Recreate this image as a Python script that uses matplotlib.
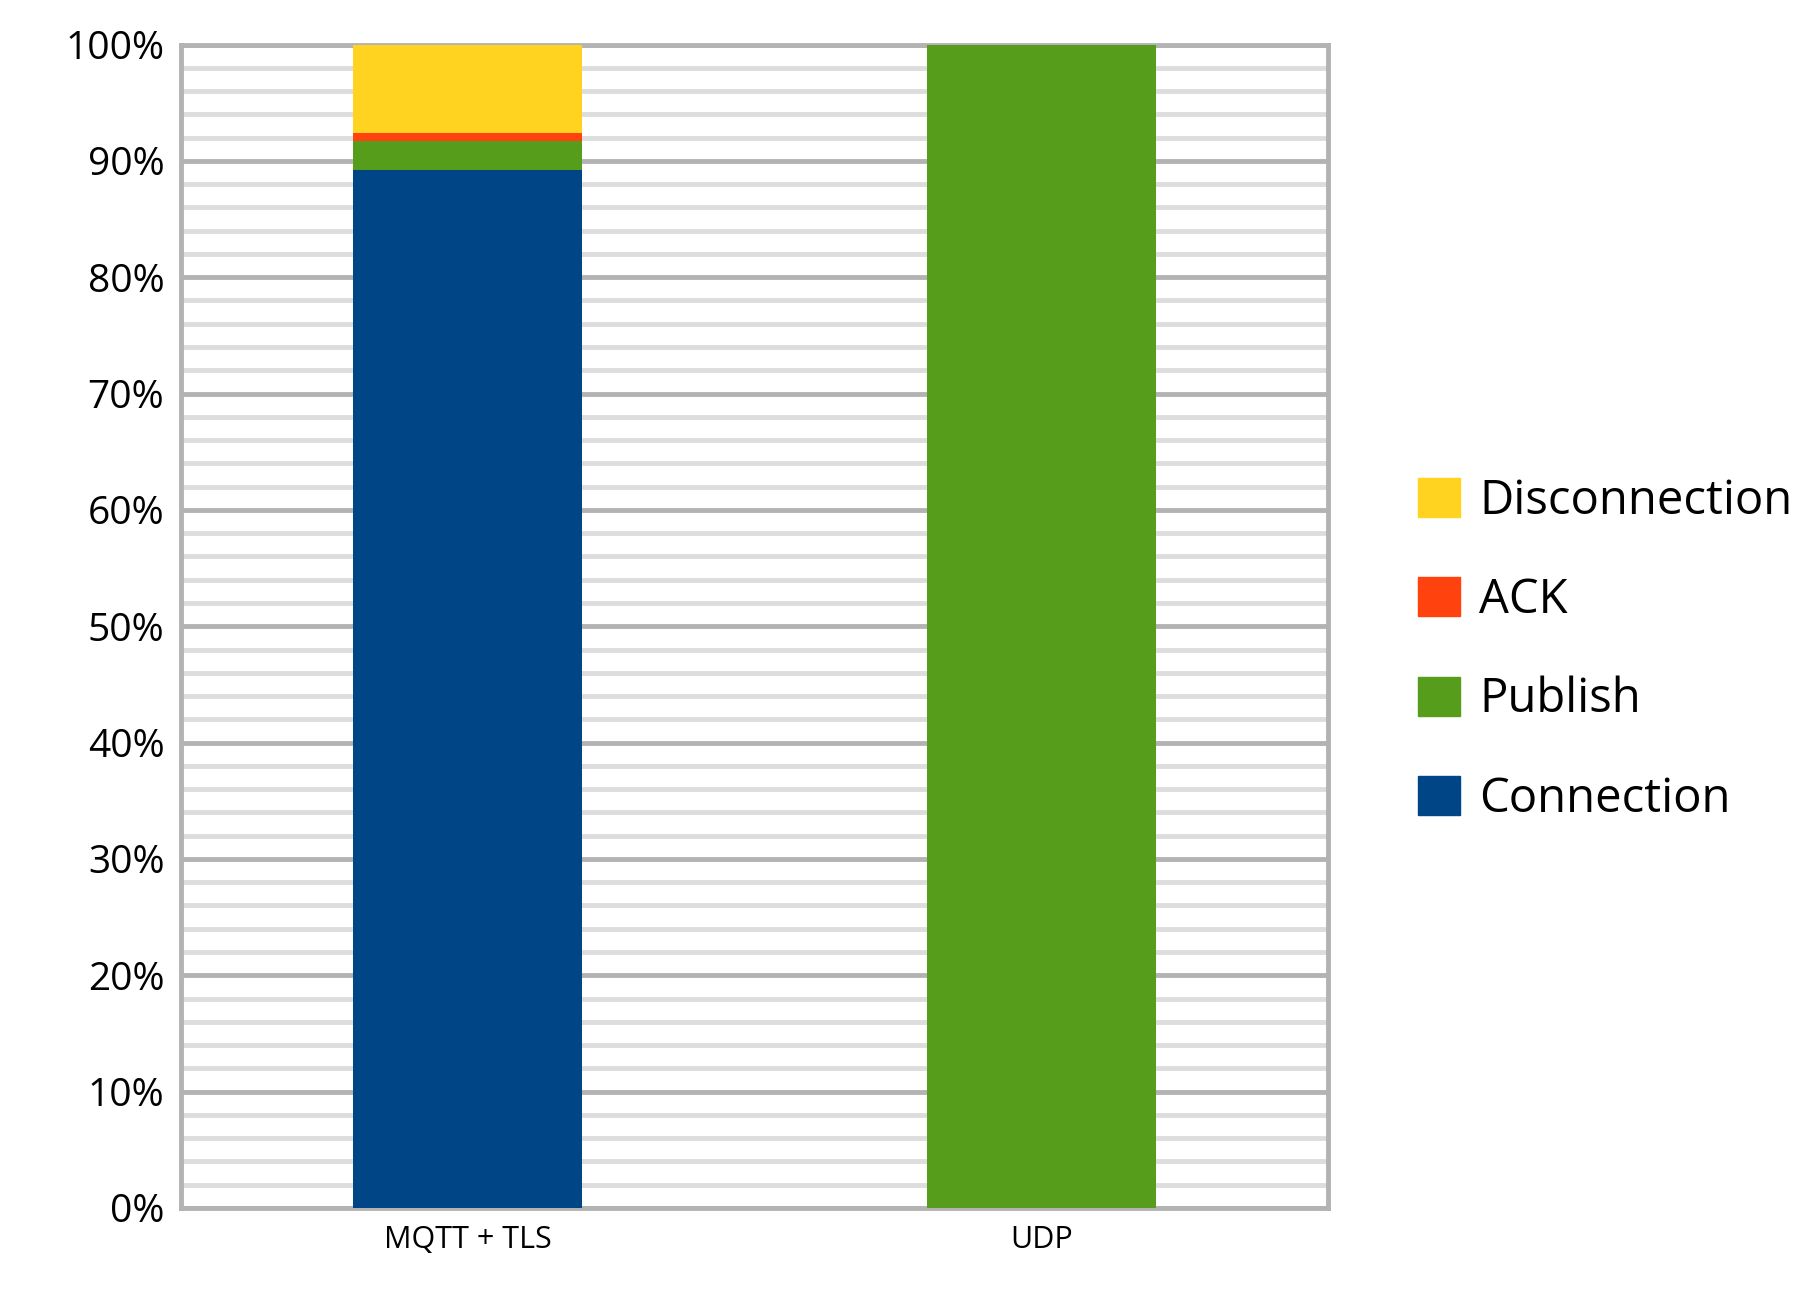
import matplotlib
matplotlib.use("Agg")
import matplotlib.pyplot as plt
from matplotlib.patches import Patch
import numpy as np

categories = ["MQTT + TLS", "UDP"]
connection = [89.2, 0.0]
publish = [2.5, 100.0]
ack = [0.7, 0.0]
disconnection = [7.6, 0.0]
series = [("Connection", connection, "#004586"),
          ("Publish", publish, "#579d1c"),
          ("ACK", ack, "#ff420e"),
          ("Disconnection", disconnection, "#ffd320")]

plt.rcParams['font.family'] = ['Open Sans', 'DejaVu Sans']
fig = plt.figure(figsize=(18.2, 13.05), dpi=100)
ax = fig.add_axes([181/1820, 1-1208/1305, (1328-181)/1820, (1208-44.5)/1305])

x = np.arange(len(categories))
bottom = np.zeros(len(categories))
for name, vals, col in series:
    ax.bar(x, vals, 0.4, bottom=bottom, color=col, zorder=3)
    bottom += np.array(vals)

ax.set_xlim(-0.5, 1.5)
ax.set_ylim(0, 100)
ax.set_yticks(np.arange(0, 101, 10))
ax.set_yticklabels([f"{v}%" for v in range(0, 101, 10)], fontsize=28)
ax.set_yticks(np.arange(0, 101, 2), minor=True)
ax.set_xticks(x)
ax.set_xticklabels(categories, fontsize=22)
ax.tick_params(axis='both', which='both', length=0, pad=12)
ax.grid(axis='y', which='major', color='#b3b3b3', linewidth=3.5, zorder=1)
ax.grid(axis='y', which='minor', color='#dddddd', linewidth=3.5, zorder=1)
for s in ax.spines.values():
    s.set_color('#b3b3b3'); s.set_linewidth(3.5)

handles = [Patch(color=c, label=n) for n, _, c in reversed(series)]
fig.legend(handles=handles, loc='center left', bbox_to_anchor=(1375/1820, 1-650/1305),
           frameon=False, fontsize=34, handlelength=0.9, handleheight=0.9,
           labelspacing=1.1, handletextpad=0.4)
fig.savefig("out.png", dpi=100)
